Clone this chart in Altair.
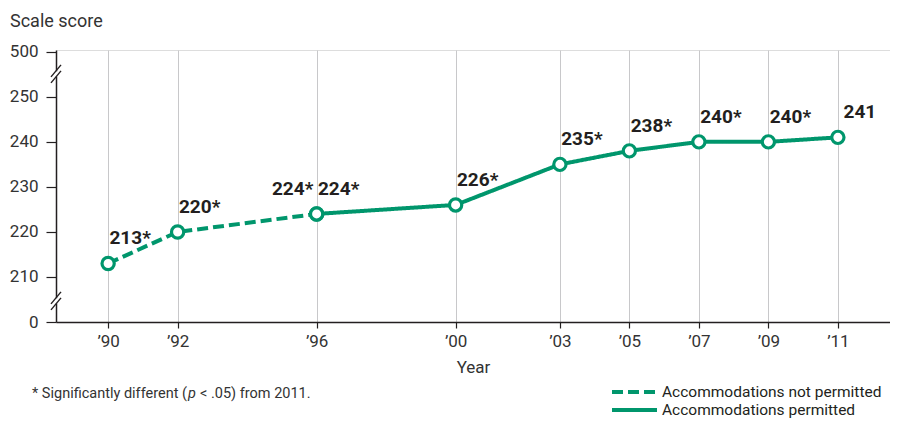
import altair as alt
import pandas as pd

# ---------------- data ----------------
series_names = ["Accommodations not permitted", "Accommodations permitted"]
years_np = [1990, 1992, 1996]
scores_np = [213, 220, 224]
labels_np = ["213*", "220*", "224*"]
years_p = [1996, 2000, 2003, 2005, 2007, 2009, 2011]
scores_p = [224, 226, 235, 238, 240, 240, 241]
labels_p = ["224*", "226*", "235*", "238*", "240*", "240*", "241"]
x_ticks = [1990, 1992, 1996, 2000, 2003, 2005, 2007, 2009, 2011]
y_ticks = [200, 210, 220, 230, 240, 250, 260]   # 200 shown as 0, 260 shown as 500 (broken axis)

GREEN = "#00966c"
INK = "#231f20"
GREY_TXT = "#333333"
FONT = "Roboto, Liberation Sans Narrow, sans-serif"
DASH = [11, 5]

W, H = 834, 272
XD = [1988.5, 2012.5]
YD = [200, 260.4]
pxx = (XD[1] - XD[0]) / W
pxy = (YD[1] - YD[0]) / H

df = pd.DataFrame(
    {"year": years_np + years_p,
     "score": scores_np + scores_p,
     "label": labels_np + labels_p,
     "series": [series_names[0]] * len(years_np) + [series_names[1]] * len(years_p)}
)

x = alt.X("year:Q", scale=alt.Scale(domain=XD, nice=False, zero=False),
          axis=alt.Axis(values=x_ticks, grid=True, gridColor="#c8c8ca", gridWidth=1,
                        labelExpr="'\u2019' + substring(toString(datum.value), 2)",
                        labelFontSize=17, labelColor=GREY_TXT, labelPadding=5,
                        tickColor=INK, tickSize=6, tickWidth=1.2,
                        domainColor=INK, domainWidth=1.5,
                        title="Year", titleFontSize=17, titleFontWeight="normal",
                        titleColor=GREY_TXT, titlePadding=10))
y = alt.Y("score:Q", scale=alt.Scale(domain=YD, nice=False, zero=False),
          axis=alt.Axis(values=y_ticks, grid=False,
                        labelExpr="datum.value == 200 ? '0' : (datum.value == 260 ? '500' : datum.label)",
                        labelFontSize=17, labelColor=GREY_TXT, labelPadding=8,
                        tickColor=INK, tickSize=10, tickWidth=1.2,
                        domainColor=INK, domainWidth=1.5, title=None))

base = alt.Chart(df)

lines = base.mark_line(strokeWidth=4, color=GREEN).encode(
    x=x, y=y,
    strokeDash=alt.StrokeDash("series:N",
                              scale=alt.Scale(domain=series_names, range=[DASH, [1, 0]]),
                              legend=None),
)

points = base.mark_point(shape="circle", fill="white", fillOpacity=1, opacity=1,
                         stroke=GREEN, strokeWidth=3.2, size=150).encode(x="year:Q", y="score:Q")

lab_right = base.transform_filter(
    f"!(datum.series == '{series_names[0]}' && datum.year == 1996)"
).mark_text(fontSize=19, fontWeight="bold", color=INK, dx=22, dy=-25, font=FONT).encode(
    x="year:Q", y="score:Q", text="label:N")
lab_left = base.transform_filter(
    f"datum.series == '{series_names[0]}' && datum.year == 1996"
).mark_text(fontSize=19, fontWeight="bold", color=INK, dx=-24, dy=-25, font=FONT).encode(
    x="year:Q", y="score:Q", text="label:N")

# ---------- axis break marks ----------
def break_layers(cy):
    cover = pd.DataFrame({"x": [XD[0] - 2.5 * pxx], "x2": [XD[0] + 2.5 * pxx],
                          "y": [cy - 2.6 * pxy], "y2": [cy + 2.6 * pxy]})
    rect = alt.Chart(cover).mark_rect(color="white").encode(
        x="x:Q", x2="x2:Q", y="y:Q", y2="y2:Q")
    segs = pd.DataFrame({
        "x": [XD[0] - 5 * pxx, XD[0] - 5 * pxx],
        "x2": [XD[0] + 5 * pxx, XD[0] + 5 * pxx],
        "y": [cy + 3 * pxy - 6 * pxy, cy - 3 * pxy - 6 * pxy],
        "y2": [cy + 3 * pxy + 6 * pxy, cy - 3 * pxy + 6 * pxy],
    })
    rule = alt.Chart(segs).mark_rule(color=INK, strokeWidth=1.4).encode(
        x="x:Q", x2="x2:Q", y="y:Q", y2="y2:Q")
    return rect + rule

brk1 = break_layers(255.1)
brk2 = break_layers(204.7)

# ---------- annotation texts ----------
def txt(t, xpx, ypx, size, align="left", **kw):
    return alt.Chart(pd.DataFrame({"t": [t]})).mark_text(
        align=align, baseline="middle", fontSize=size, font=FONT, **kw).encode(
        x=alt.value(xpx), y=alt.value(ypx), text="t:N")

ytitle = txt("Scale score", -46, -28, 18, color=GREY_TXT)

P = 132  # x of the italic p (plot coordinates)
FY = 344
foot1 = txt("* Significantly different (", P - 1, FY, 14.5, align="right", color=GREY_TXT)
foot2 = txt("p", P, FY, 14.5, fontStyle="italic", color=GREY_TXT)
foot3 = txt("< .05) from 2011.", P + 12, FY, 14.5, color=GREY_TXT)

# ---------- legend (drawn) ----------
leg_y = [342, 360]
SX0, SX1, TX = 556, 601, 606
leg_dash = alt.Chart(pd.DataFrame({"s": [series_names[0]]})).mark_rule(
    color=GREEN, strokeWidth=4, strokeDash=DASH).encode(
    x=alt.value(SX0), x2=alt.value(SX1), y=alt.value(leg_y[0]))
leg_solid = alt.Chart(pd.DataFrame({"s": [series_names[1]]})).mark_rule(
    color=GREEN, strokeWidth=4).encode(
    x=alt.value(SX0), x2=alt.value(SX1), y=alt.value(leg_y[1]))
leg_t1 = txt(series_names[0], TX, leg_y[0], 15.5, color=INK)
leg_t2 = txt(series_names[1], TX, leg_y[1], 15.5, color=INK)

chart = alt.layer(
    lines, points, lab_right, lab_left, brk1, brk2, ytitle, foot1, foot2, foot3,
    leg_dash, leg_solid, leg_t1, leg_t2
).properties(
    width=W, height=H,
    autosize=alt.AutoSizeParams(type="none"),
    padding={"left": 48, "top": 42, "right": 0, "bottom": 98},
).configure_view(
    fill="#ebebed", stroke=None
).configure(font=FONT)

chart.save("out.html", embed_options={"renderer": "svg", "actions": False})
